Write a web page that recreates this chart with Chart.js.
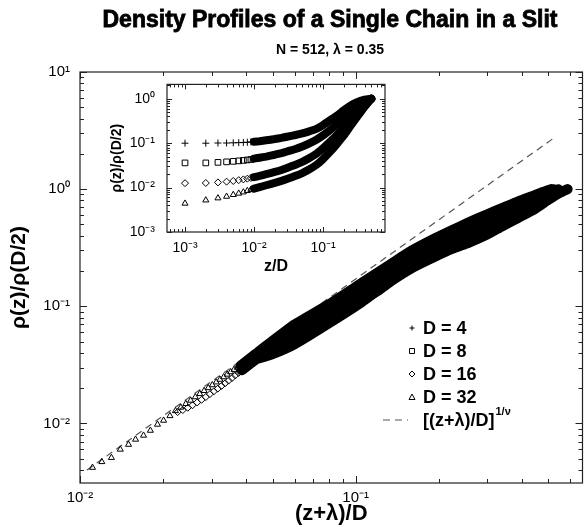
<!DOCTYPE html>
<html><head><meta charset="utf-8">
<script src="https://cdn.jsdelivr.net/npm/chart.js@4.4.1/dist/chart.umd.min.js"></script>
<style>
html,body{margin:0;padding:0;background:#fff;}
#wrap{position:relative;width:587px;height:527px;overflow:hidden;background:#fff;}
canvas{position:absolute;left:0;top:0;}
</style></head><body>
<div id="wrap"><canvas id="main" width="587" height="527"></canvas><canvas id="inset" width="300" height="215"></canvas></div>
<script>
const FONT = '"Liberation Sans", Arial, Helvetica, sans-serif';
const titleText = 'Density Profiles of a Single Chain in a Slit';
const subtitleText = 'N = 512, \u03bb = 0.35';
const seriesNames = ['D = 4', 'D = 8', 'D = 16', 'D = 32'];
const fitName = '[(z+\u03bb)/D]';
const fitExp = '1/\u03bd';

// tick label values
const mainXTicks = [0.01, 0.1];
const mainYTicks = [0.01, 0.1, 1, 10];
const insetXTicks = [0.001, 0.01, 0.1];
const insetYTicks = [0.001, 0.01, 0.1, 1];

// ---- main plot: (z+lambda)/D vs rho(z)/rho(D/2) ----
const m4x = [0.0885,0.095,0.105,0.120,0.135,0.160,0.194,0.225,0.258,0.300,0.339,0.390,0.446,0.500,0.550,0.5875];
const m4y = [0.100,0.104,0.113,0.135,0.165,0.212,0.265,0.31,0.35,0.41,0.48,0.57,0.675,0.81,0.93,1.0];

const m8x = [0.0448,0.050,0.060,0.080,0.105,0.135,0.160,0.194,0.225,0.258,0.300,0.339,0.390,0.446,0.500,0.525,0.544];
const m8y = [0.036,0.039,0.0473,0.0716,0.108,0.168,0.222,0.295,0.355,0.41,0.49,0.56,0.66,0.76,0.87,0.94,1.0];

const m16x = [0.0226,0.0236,0.0246,0.0256,0.0266,0.0276,0.0286,0.0296,0.0306,0.0316,0.0326,0.0336,0.0346,0.0356,0.0366,0.0376,0.0386,
              0.0454,0.060,0.080,0.105,0.135,0.160,0.194,0.225,0.258,0.300,0.339,0.390,0.446,0.480,0.505,0.522];
const m16y = [0.0125,0.0130,0.0136,0.0143,0.0151,0.0159,0.0168,0.0178,0.0188,0.0198,0.0209,0.0220,0.0232,0.0244,0.0257,0.0270,0.0284,
              0.038,0.0575,0.087,0.130,0.192,0.25,0.326,0.39,0.446,0.53,0.611,0.72,0.805,0.88,0.94,1.0];

const m32x = [0.0111,0.0120,0.0130,0.0140,0.0150,0.0159,0.0170,0.0180,0.0191,0.0201,0.0212,0.0222,0.0232,0.0242,0.0252,0.0262,0.0272,0.0282,0.0292,0.0302,0.0312,0.0322,0.0332,0.0342,0.0352,0.0362,0.0372,0.0382,
              0.045,0.060,0.080,0.105,0.135,0.160,0.194,0.225,0.258,0.300,0.339,0.390,0.446,0.480,0.511];
const m32y = [0.0042,0.0047,0.0051,0.0060,0.0066,0.0073,0.0079,0.0087,0.0098,0.0106,0.0116,0.0128,0.0137,0.0147,0.0157,0.0168,0.0179,0.0190,0.0201,0.0213,0.0225,0.0237,0.0249,0.0262,0.0275,0.0288,0.0300,0.0310,
              0.042,0.070,0.104,0.158,0.232,0.30,0.381,0.45,0.523,0.61,0.688,0.79,0.888,0.95,1.0];

// dashed scaling line
const fitX = [0.0106, 0.52];
const fitY = [0.0040, 2.7];

// ---- inset: z/D vs rho(z)/rho(D/2) ----
const insetX = [0.001,0.002,0.003,0.004,0.005,0.006,0.007,0.008,0.009,0.010,0.012,0.015,0.020,0.025,0.030,0.040,0.050,0.060,0.080,0.100,0.130,0.160,0.200,0.250,0.300,0.400,0.500];
const i4y  = [0.100,0.100,0.101,0.101,0.102,0.103,0.104,0.105,0.107,0.108,0.111,0.116,0.124,0.132,0.140,0.153,0.166,0.180,0.21,0.255,0.34,0.42,0.55,0.70,0.82,0.96,1.0];
const i8y  = [0.036,0.036,0.037,0.038,0.039,0.040,0.041,0.042,0.043,0.045,0.047,0.050,0.055,0.060,0.065,0.074,0.084,0.095,0.120,0.15,0.205,0.27,0.37,0.51,0.64,0.87,1.0];
const i16y = [0.0126,0.0127,0.0131,0.0136,0.0141,0.0147,0.0153,0.0159,0.0165,0.0172,0.0183,0.0200,0.0225,0.025,0.0277,0.0328,0.038,0.044,0.058,0.077,0.112,0.155,0.225,0.34,0.47,0.76,1.0];
const i32y = [0.0044,0.0052,0.0058,0.0063,0.0069,0.0074,0.0079,0.0085,0.0090,0.0095,0.0102,0.0113,0.0128,0.0142,0.0156,0.0184,0.0213,0.0245,0.0325,0.044,0.067,0.098,0.15,0.245,0.36,0.66,1.0];

// ---------------------------------------------------------------
const SUP = {'-':'\u207b','0':'\u2070','1':'\u00b9','2':'\u00b2','3':'\u00b3','4':'\u2074','5':'\u2075','6':'\u2076','7':'\u2077','8':'\u2078','9':'\u2079'};
function supLabel(v){ const e = Math.round(Math.log10(v)); return '10' + String(e).split('').map(c => SUP[c]).join(''); }

function ds(xs, ys, style, thr, r, lw){
  return {
    data: xs.map((x,i) => ({x: x, y: ys[i]})),
    showLine: true, borderColor: '#000', borderWidth: lw,
    borderCapStyle: 'round', borderJoinStyle: 'round', tension: 0.15,
    segment: { borderColor: c => (xs[c.p0DataIndex] >= thr ? '#000' : 'rgba(0,0,0,0)') },
    pointStyle: style,
    pointRadius: c => (xs[c.dataIndex] < thr ? r : 0),
    pointHoverRadius: 0,
    pointBorderColor: '#000', pointBackgroundColor: 'rgba(0,0,0,0)', pointBorderWidth: 1
  };
}

function frameTicks(chart, major, minor){
  const ctx = chart.ctx, a = chart.chartArea, sx = chart.scales.x, sy = chart.scales.y;
  ctx.save();
  ctx.strokeStyle = '#222'; ctx.lineWidth = 1.2;
  ctx.strokeRect(a.left, a.top, a.right - a.left, a.bottom - a.top);
  ctx.lineWidth = 1;
  const line = (x1,y1,x2,y2) => { ctx.beginPath(); ctx.moveTo(x1,y1); ctx.lineTo(x2,y2); ctx.stroke(); };
  [[sx,'x'],[sy,'y']].forEach(([s,k]) => {
    const lo = Math.floor(Math.log10(s.min)), hi = Math.ceil(Math.log10(s.max));
    for (let e = lo; e <= hi; e++) for (let m = 1; m < 10; m++) {
      const v = m * Math.pow(10, e);
      if (v < s.min * 0.999 || v > s.max * 1.001) continue;
      const p = Math.round(s.getPixelForValue(v)) + 0.5;
      const L = m === 1 ? major : minor;
      if (k === 'x') { line(p, a.bottom, p, a.bottom - L); line(p, a.top, p, a.top + L); }
      else { line(a.left, p, a.left + L, p); line(a.right, p, a.right - L, p); }
    }
  });
  ctx.restore();
}

function logScale(min, max, ticksArr, fit, fontSize, titleText, titleSize, titlePad, labelPad){
  return {
    type: 'logarithmic', min: min, max: max,
    afterFit: fit,
    afterBuildTicks: s => { s.ticks = ticksArr.map(v => ({value: v})); },
    grid: {display: false, drawTicks: false},
    border: {display: false},
    ticks: {autoSkip: false, maxRotation: 0, padding: labelPad, color: '#000',
            font: {family: FONT, size: fontSize}, callback: v => supLabel(v)},
    title: {display: true, text: titleText, color: '#000',
            font: {family: FONT, size: titleSize, weight: 'bold'}, padding: titlePad}
  };
}

// place a chart's canvas so that its plot area lands on the wanted page rectangle
function placeArea(chart, canvas, P){
  const a = chart.chartArea, w = chart.width, h = chart.height;
  const ml = a.left, mt = a.top, mr = w - a.right, mb = h - a.bottom;
  const nw = Math.round((P.r - P.l) + ml + mr), nh = Math.round((P.b - P.t) + mt + mb);
  const cx = Math.round(P.l - ml), cy = Math.round(P.t - mt);
  chart.$off = {x: cx, y: cy};
  canvas.style.left = cx + 'px'; canvas.style.top = cy + 'px';
  canvas.style.width = nw + 'px'; canvas.style.height = nh + 'px';
  chart.resize(nw, nh);
}

const mainPlugin = {
  id: 'mainDecor',
  beforeDraw(chart){ const c = chart.ctx; c.save(); c.fillStyle = '#fff'; c.fillRect(0,0,chart.width,chart.height); c.restore(); },
  afterDatasetsDraw(chart){ frameTicks(chart, 7, 4); },
  afterDraw(chart){
    const o = chart.$off || {x: 0, y: 0};
    const c = chart.ctx;
    c.save();
    c.translate(-o.x, -o.y);
    c.fillStyle = '#000'; c.strokeStyle = '#000'; c.textAlign = 'center'; c.textBaseline = 'middle';
    c.font = 'bold 23px ' + FONT; c.lineWidth = 0.8;
    c.fillText(titleText, 330, 21); c.strokeText(titleText, 330, 21);
    c.font = 'bold 14px ' + FONT; c.fillText(subtitleText, 330, 50);
    // legend
    const rows = [328, 351, 374, 397];
    const mx = 412, tx = 423;
    c.lineWidth = 1;
    rows.forEach((y, i) => {
      c.beginPath();
      if (i === 0) { c.moveTo(mx-2.5, y); c.lineTo(mx+2.5, y); c.moveTo(mx, y-2.5); c.lineTo(mx, y+2.5); }
      else if (i === 1) { c.rect(mx-2.5, y-2.5, 5, 5); }
      else if (i === 2) { c.moveTo(mx, y-3); c.lineTo(mx+3, y); c.lineTo(mx, y+3); c.lineTo(mx-3, y); c.closePath(); }
      else { c.moveTo(mx, y-3); c.lineTo(mx+3, y+2.5); c.lineTo(mx-3, y+2.5); c.closePath(); }
      c.stroke();
      c.textAlign = 'left'; c.font = 'bold 18px ' + FONT;
      c.fillText(seriesNames[i], tx, y + 1);
    });
    const fy = 420;
    c.strokeStyle = '#555'; c.lineWidth = 1.2; c.setLineDash([7,5]);
    c.beginPath(); c.moveTo(383, fy); c.lineTo(408, fy); c.stroke(); c.setLineDash([]);
    c.font = 'bold 18px ' + FONT; c.textAlign = 'left';
    c.fillText(fitName, tx, fy + 1);
    const w = c.measureText(fitName).width;
    c.font = 'bold 11px ' + FONT;
    c.fillText(fitExp, tx + w + 1, fy - 8);
    c.restore();
  }
};

const insetPlugin = {
  id: 'insetDecor',
  beforeDraw(chart){ const a = chart.chartArea, c = chart.ctx; c.save(); c.fillStyle = '#fff'; c.fillRect(a.left, a.top, a.right-a.left, a.bottom-a.top); c.restore(); },
  afterDatasetsDraw(chart){ frameTicks(chart, 5, 3); }
};

const dashed = {
  data: fitX.map((x,i) => ({x: x, y: fitY[i]})),
  showLine: true, borderColor: '#555', borderWidth: 1.2, borderDash: [7,5],
  pointRadius: 0, pointHoverRadius: 0
};

const mainCanvas = document.getElementById('main');
const mainChart = new Chart(mainCanvas, {
  type: 'scatter',
  data: {datasets: [
    ds(m4x, m4y, 'cross', 0, 4, 10),
    ds(m8x, m8y, 'rect', 0, 4, 10),
    ds(m16x, m16y, 'rectRot', 0.038, 3.5, 10),
    ds(m32x, m32y, 'triangle', 0.038, 3.5, 10),
    dashed
  ]},
  options: {
    responsive: false, animation: false, events: [],
    layout: {padding: {top: 72, right: 2, left: 0, bottom: 0}},
    plugins: {legend: {display: false}, title: {display: false}, tooltip: {enabled: false}},
    scales: {
      x: logScale(0.01, 0.665, mainXTicks, s => { s.height = 44; }, 15, '(z+\u03bb)/D', 22, {top: 0, bottom: 0}, 6),
      y: logScale(0.0031, 10, mainYTicks, s => { s.width = 80; }, 15, '\u03c1(z)/\u03c1(D/2)', 21, {top: 7, bottom: 0}, 10)
    }
  },
  plugins: [mainPlugin]
});
if (Math.abs(mainChart.chartArea.top - 72) > 0.5 || Math.abs(mainChart.chartArea.bottom - 483) > 0.5) {
  placeArea(mainChart, mainCanvas, {l: 80, t: 72, r: 585, b: 483});
}

const insetCanvas = document.getElementById('inset');
const insetChart = new Chart(insetCanvas, {
  type: 'scatter',
  data: {datasets: [
    ds(insetX, i4y, 'cross', 0.0095, 3.5, 8),
    ds(insetX, i8y, 'rect', 0.0095, 4, 8),
    ds(insetX, i16y, 'rectRot', 0.0095, 3.5, 8),
    ds(insetX, i32y, 'triangle', 0.0095, 3.5, 8)
  ]},
  options: {
    responsive: false, animation: false, events: [],
    layout: {padding: {top: 0, right: 10, left: 0, bottom: 0}},
    plugins: {legend: {display: false}, title: {display: false}, tooltip: {enabled: false}},
    scales: {
      x: logScale(0.000548, 0.79, insetXTicks, s => { s.height = 47; }, 14, 'z/D', 16, {top: 0, bottom: 3}, 8),
      y: logScale(0.001, 2.11, insetYTicks, s => { s.width = 72; }, 14, '\u03c1(z)/\u03c1(D/2)', 14, {top: 14, bottom: 0}, 12)
    }
  },
  plugins: [insetPlugin]
});
placeArea(insetChart, insetCanvas, {l: 167, t: 84, r: 385, b: 248});
</script>
</body></html>
